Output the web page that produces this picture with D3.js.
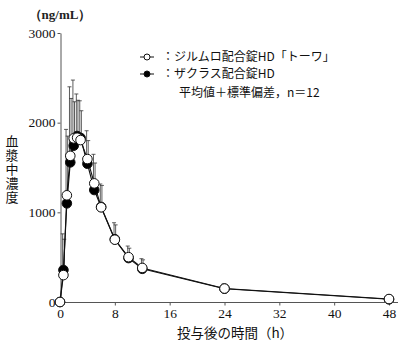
<!DOCTYPE html>
<html><head><meta charset="utf-8">
<script src="https://cdn.jsdelivr.net/npm/d3@7"></script>
<style>body{margin:0;background:#fff}svg{display:block}</style>
</head><body>
<svg id="c" width="400" height="347"></svg>
<script>
const times = [0, 0.5, 1, 1.5, 2, 2.5, 3, 4, 5, 6, 8, 10, 12, 24, 48];
const meanTowa = [0, 300, 1190, 1630, 1825, 1832, 1806, 1594, 1323, 1056, 695, 500, 380, 150, 33];
const sdTowa   = [0, 460, 735, 770, 650, 488, 438, 316, 324, 260, 189, 124, 103, 51, 17];
const meanZac  = [0, 357, 1100, 1557, 1743, 1851, 1830, 1542, 1249, 1060, 700, 490, 370, 148, 30];
const sdZac    = [0, 343, 750, 713, 490, 399, 303, 258, 301, 240, 160, 110, 100, 47, 15];
const xTicks = [0, 8, 16, 24, 32, 40, 48];
const yTicks = [0, 1000, 2000, 3000];
const legendLabels = ["：ジルムロ配合錠HD「トーワ」", "：ザクラス配合錠HD", "平均値＋標準偏差，n＝12"];
const yTitle = "血漿中濃度";
const xTitle = "投与後の時間（h）";
const unitLabel = "（ng/mL）";

const svg = d3.select("#c");
const x = d3.scaleLinear().domain([0, 48]).range([60, 389]);
const y = d3.scaleLinear().domain([0, 3000]).range([302, 33]);
const serif = "'Liberation Serif','DejaVu Serif',serif";
const cjk = "'Noto Sans CJK JP',sans-serif";

// axes
const xAx = svg.append("g").attr("transform", "translate(0,302.5)")
  .call(d3.axisBottom(x).tickValues(xTicks).tickFormat(d3.format("d")).tickSize(3).tickSizeOuter(0));
xAx.select(".domain").attr("d", "M60.5,0H398");
const yAx = svg.append("g").attr("transform", "translate(60.5,0)")
  .call(d3.axisLeft(y).tickValues(yTicks).tickFormat(d3.format("d")).tickSize(3).tickSizeOuter(0));
[xAx, yAx].forEach(g => {
  g.attr("font-family", serif).attr("font-size", 13.5);
  g.selectAll(".domain").attr("stroke", "#555");
  g.selectAll(".tick line").attr("stroke", "#555");
  g.selectAll("text").attr("fill", "#111");
});
xAx.selectAll("text").attr("dy", null).attr("y", 15.5);
yAx.selectAll("text").attr("x", -5);

// titles
svg.append("text").attr("x", 60).attr("y", 19).attr("text-anchor", "middle")
  .attr("font-family", serif).attr("font-size", 13).attr("font-weight", "bold").attr("fill", "#222").text(unitLabel);
svg.append("text").attr("x", 235).attr("y", 337.5).attr("text-anchor", "middle")
  .attr("font-family", cjk).attr("font-size", 13.5).attr("fill", "#111").text(xTitle);
svg.append("text").attr("x", 12).attr("y", 135)
  .style("writing-mode", "vertical-rl").attr("letter-spacing", 0.8)
  .attr("font-family", cjk).attr("font-size", 13).attr("fill", "#111").text(yTitle);

// series
const series = [
  {mean: meanZac, sd: sdZac, fill: "#000"},
  {mean: meanTowa, sd: sdTowa, fill: "#fff"}
];
const line = d3.line().x(d => x(d[0])).y(d => y(d[1]));
series.forEach((s, k) => {
  const pts = times.map((t, i) => [t, s.mean[i], s.sd[i]]);
  const off = k === 0 ? 0.8 : -0.8;
  const eb = svg.append("g").attr("stroke", "#333").attr("stroke-width", 0.8);
  pts.filter(p => p[2] > 0).forEach(p => {
    const cx = x(p[0]) + off;
    eb.append("line").attr("x1", cx).attr("x2", cx).attr("y1", y(p[1])).attr("y2", y(p[1] + p[2]));
    eb.append("line").attr("x1", cx - 2).attr("x2", cx + 2).attr("y1", y(p[1] + p[2])).attr("y2", y(p[1] + p[2]));
  });
});
series.forEach(s => {
  const pts = times.map((t, i) => [t, s.mean[i]]);
  svg.append("path").datum(pts).attr("d", line).attr("fill", "none").attr("stroke", "#111").attr("stroke-width", 1.1);
});
series.forEach(s => {
  const pts = times.map((t, i) => [t, s.mean[i]]);
  svg.append("g").selectAll("circle").data(pts).join("circle")
    .attr("cx", d => x(d[0])).attr("cy", d => y(d[1])).attr("r", 4.8)
    .attr("fill", s.fill).attr("stroke", "#111").attr("stroke-width", 1);
});

// legend
const lg = svg.append("g");
const rows = [{y: 57, fill: "#fff"}, {y: 74, fill: "#000"}];
rows.forEach((r, i) => {
  lg.append("line").attr("x1", 140).attr("x2", 154).attr("y1", r.y).attr("y2", r.y).attr("stroke", "#111");
  lg.append("circle").attr("cx", 147).attr("cy", r.y).attr("r", 3).attr("fill", r.fill).attr("stroke", "#111");
  lg.append("text").attr("x", 162).attr("y", r.y + 4.3).attr("font-family", cjk).attr("font-size", 12)
    .attr("fill", "#111").text(legendLabels[i]);
});
lg.append("text").attr("x", 179).attr("y", 97).attr("font-family", cjk).attr("font-size", 12)
  .attr("fill", "#111").text(legendLabels[2]);
</script>
</body></html>
